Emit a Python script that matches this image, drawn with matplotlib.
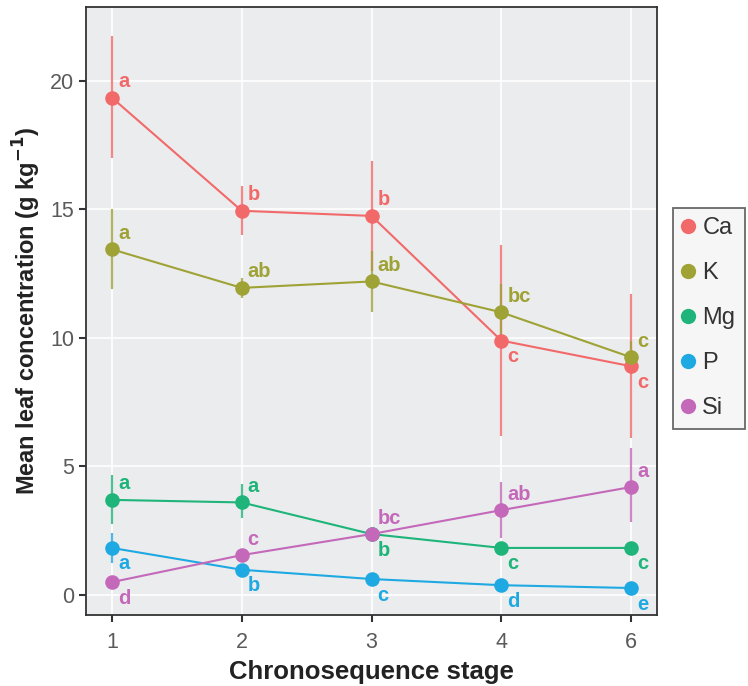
import matplotlib.pyplot as plt
from matplotlib.lines import Line2D
import numpy as np

plt.rcParams['font.family'] = ['Liberation Sans', 'DejaVu Sans']

stages = ['1', '2', '3', '4', '6']
elements = ['Ca', 'K', 'Mg', 'P', 'Si']
colors = {'Ca': '#F2696A', 'K': '#9FA235', 'Mg': '#1EB47A', 'P': '#1FA9E2', 'Si': '#C469B9'}

means = {
    'Ca': [19.35, 14.95, 14.75, 9.9, 8.9],
    'K':  [13.45, 11.95, 12.2, 11.0, 9.25],
    'Mg': [3.7, 3.6, 2.37, 1.83, 1.83],
    'P':  [1.83, 0.98, 0.62, 0.38, 0.27],
    'Si': [0.5, 1.55, 2.37, 3.3, 4.2],
}
lower = {
    'Ca': [17.0, 14.0, 12.6, 6.2, 6.1],
    'K':  [11.9, 11.55, 11.0, 9.9, 8.6],
    'Mg': [2.75, 3.0, 2.2, 1.7, 1.7],
    'P':  [1.25, 0.8, 0.5, 0.28, 0.18],
    'Si': [0.35, 1.35, 2.2, 2.2, 2.85],
}
upper = {
    'Ca': [21.75, 15.9, 16.9, 13.6, 11.7],
    'K':  [15.0, 12.35, 13.4, 12.1, 9.9],
    'Mg': [4.65, 4.3, 2.55, 1.95, 1.95],
    'P':  [2.4, 1.15, 0.75, 0.5, 0.38],
    'Si': [0.65, 1.75, 2.55, 4.4, 5.7],
}
letters = {
    'Ca': ['a', 'b', 'b', 'c', 'c'],
    'K':  ['a', 'ab', 'ab', 'bc', 'c'],
    'Mg': ['a', 'a', 'b', 'c', 'c'],
    'P':  ['a', 'b', 'c', 'd', 'e'],
    'Si': ['d', 'c', 'bc', 'ab', 'a'],
}
# +1 = letter above the point, -1 = below
side = {
    'Ca': [1, 1, 1, -1, -1],
    'K':  [1, 1, 1, 1, 1],
    'Mg': [1, 1, -1, -1, -1],
    'P':  [-1, -1, -1, -1, -1],
    'Si': [-1, 1, 1, 1, 1],
}

fig = plt.figure(figsize=(7.48, 6.86), dpi=100)
ax = fig.add_axes([86/748, 1 - 615/686, (657-86)/748, (615-7)/686])
ax.set_facecolor('#EBECEE')

x = np.arange(len(stages))
for el in elements:
    c = colors[el]
    m = np.array(means[el])
    ax.vlines(x, lower[el], upper[el], color=c, lw=1.6, alpha=0.8, zorder=2)
    ax.plot(x, m, '-o', color=c, lw=1.5, ms=10.5, mec='none', zorder=3)
    for xi, yi, lab, s in zip(x, m, letters[el], side[el]):
        ax.annotate(lab, (xi, yi), xytext=(6, 16 * s), textcoords='offset pixels',
                    ha='left', va='center', color=c, fontsize=14.5, fontweight='bold',
                    zorder=4)

ax.set_xlim(-0.2, 4.2)
ax.set_ylim(-0.78, 22.88)
ax.set_xticks(x)
ax.set_xticklabels(stages)
ax.set_yticks([0, 5, 10, 15, 20])
ax.grid(True, color='white', lw=1.2, zorder=0)
ax.set_axisbelow(True)
for sp in ax.spines.values():
    sp.set_color('#333333')
    sp.set_linewidth(1.3)
ax.tick_params(direction='out', length=5, width=1.5, color='#333333',
               labelcolor='#5a5a5a', labelsize=15.5)
ax.tick_params(axis='x', pad=7)

ax.set_xlabel('Chronosequence stage', fontsize=18.5, fontweight='bold', color='#222222', labelpad=5)
ax.set_ylabel('Mean leaf concentration (g kg$^{\\mathbf{-1}}$)', fontsize=17,
              fontweight='bold', color='#222222', labelpad=5)

handles = [Line2D([], [], marker='o', ls='none', ms=11, color=colors[el], mec='none')
           for el in elements]
leg = fig.legend(handles, elements, loc='upper left', bbox_to_anchor=(673/748, 1 - 208/686),
                 fontsize=17, frameon=True, fancybox=False, handlelength=0.5,
                 handletextpad=0.34, labelspacing=0.97, borderpad=0.4, borderaxespad=0)
leg.get_frame().set_edgecolor('#444444')
leg.get_frame().set_linewidth(1.3)
leg.get_frame().set_facecolor('#F4F4F4')
for t in leg.get_texts():
    t.set_color('#333333')

fig.savefig('out.png', dpi=100)
